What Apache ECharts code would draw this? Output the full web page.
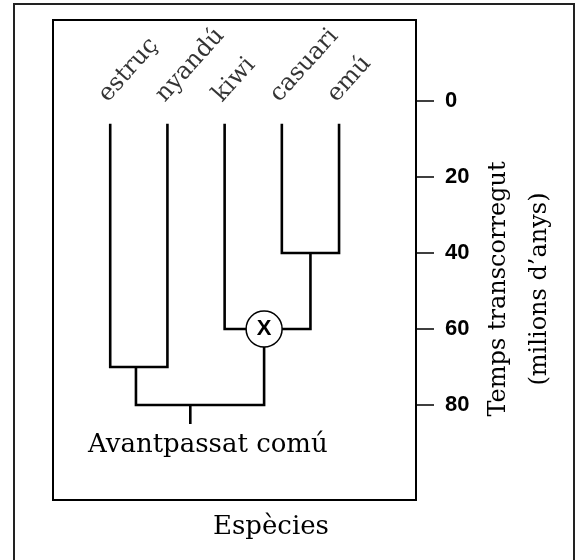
<!DOCTYPE html>
<html>
<head>
<meta charset="utf-8">
<script src="https://cdn.jsdelivr.net/npm/echarts@6/dist/echarts.min.js"></script>
<style>
  html, body { margin: 0; padding: 0; background: #fff; }
  #chart { width: 577px; height: 560px; }
</style>
</head>
<body>
<div id="chart"></div>
<script>
// species (leaves) and their positions along the hidden x axis
const species = ['estruç', 'nyandú', 'kiwi', 'casuari', 'emú']
const leafX = [1, 2, 3, 4, 5]
const leafTop = 6

// branch points: [x, time in millions of years]
const splitOstrichRhea = [1.45, 70]
const splitCassowaryEmu = [4.5, 40]
const splitKiwi = [3.69, 60]
const rootNode = [2.4, 80]
const rootEnd = 85

const timeMin = 0
const timeMax = 80
const timeStep = 20

const serif = 'DejaVu Serif'

const branches = [
  [[leafX[0], leafTop], [leafX[0], splitOstrichRhea[1]], [leafX[1], splitOstrichRhea[1]], [leafX[1], leafTop]],
  [[leafX[3], leafTop], [leafX[3], splitCassowaryEmu[1]], [leafX[4], splitCassowaryEmu[1]], [leafX[4], leafTop]],
  [splitCassowaryEmu, [splitCassowaryEmu[0], splitKiwi[1]], [leafX[2], splitKiwi[1]], [leafX[2], leafTop]],
  [splitOstrichRhea, [splitOstrichRhea[0], rootNode[1]], [splitKiwi[0], rootNode[1]], splitKiwi],
  [rootNode, [rootNode[0], rootEnd]]
]

const chart = echarts.init(document.getElementById('chart'))

const option = {
  animation: false,
  grid: [
    // tree + time axis
    { left: 53, top: 101, width: 363, height: 304, outerBoundsMode: 'none' },
    // frame around the tree
    { left: 53, top: 20, width: 363, height: 480, outerBoundsMode: 'none',
      show: true, borderColor: '#000', borderWidth: 2 }
  ],
  xAxis: [
    { type: 'value', gridIndex: 0, min: 0, max: 6.345, show: false },
    { type: 'value', gridIndex: 1, show: false }
  ],
  yAxis: [
    {
      type: 'value',
      gridIndex: 0,
      position: 'right',
      inverse: true,
      min: timeMin,
      max: timeMax,
      interval: timeStep,
      splitLine: { show: false },
      axisLine: { show: true, onZero: false, lineStyle: { color: '#000', width: 2 } },
      axisTick: { show: true, length: 18, lineStyle: { color: '#000', width: 1.5 } },
      axisLabel: {
        margin: 29, color: '#000',
        fontFamily: 'Liberation Sans', fontWeight: 'bold', fontSize: 22
      }
    },
    { type: 'value', gridIndex: 1, show: false }
  ],
  graphic: [
    {
      type: 'rect', z: -10,
      shape: { x: 14, y: 4, width: 560, height: 570 },
      style: { fill: '#fff', stroke: '#222', lineWidth: 2 }
    },
    {
      type: 'text', x: 519, y: 289, rotation: Math.PI / 2, z: 10,
      style: {
        text: 'Temps transcorregut\n(milions d\u2019anys)',
        fill: '#000', font: '24px "DejaVu Serif"',
        align: 'center', verticalAlign: 'middle', lineHeight: 41
      }
    },
    {
      type: 'text', left: 88, top: 432, z: 10,
      style: { text: 'Avantpassat comú', fill: '#000', font: '26px "DejaVu Serif"' }
    },
    {
      type: 'text', left: 213, top: 514, z: 10,
      style: { text: 'Espècies', fill: '#000', font: '26px "DejaVu Serif"' }
    }
  ],
  series: [
    {
      type: 'lines',
      coordinateSystem: 'cartesian2d',
      xAxisIndex: 0, yAxisIndex: 0,
      polyline: true,
      silent: true,
      clip: false,
      lineStyle: { color: '#000', width: 2.6, opacity: 1 },
      data: branches.map(c => ({ coords: c }))
    },
    {
      type: 'scatter',
      silent: true,
      clip: false,
      symbolSize: 0,
      data: species.map((s, i) => ({ value: [leafX[i], 0], name: s })),
      label: {
        show: true,
        formatter: p => p.name,
        position: [0, 0],
        offset: [-3, 5],
        align: 'left',
        verticalAlign: 'bottom',
        rotate: 48,
        color: '#000',
        fontFamily: serif,
        fontSize: 24
      }
    },
    {
      type: 'scatter',
      silent: true,
      clip: false,
      z: 5,
      symbol: 'circle',
      symbolSize: 36,
      itemStyle: { color: '#fff', borderColor: '#000', borderWidth: 1.5, opacity: 1 },
      data: [splitKiwi],
      label: {
        show: true, position: 'inside', formatter: 'X',
        color: '#000', fontFamily: 'Liberation Sans', fontWeight: 'bold', fontSize: 22
      }
    }
  ]
}

chart.setOption(option)
</script>
</body>
</html>
